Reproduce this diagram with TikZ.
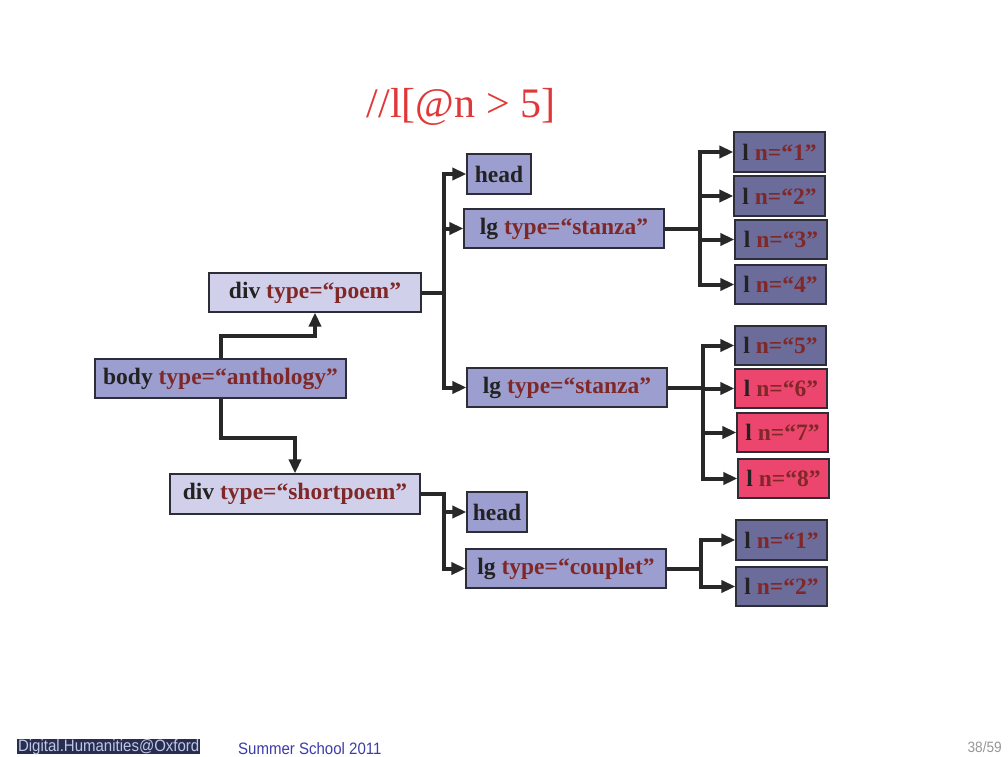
\documentclass[tikz,border=0pt]{standalone}
\usepackage{fontspec}
\setmainfont{Liberation Serif}
\newfontfamily\footfont[FakeStretch=0.91]{Liberation Sans}
\usetikzlibrary{arrows.meta}
\definecolor{lightc}{RGB}{155,158,206}
\definecolor{divc}{RGB}{208,208,234}
\definecolor{darkc}{RGB}{108,108,155}
\definecolor{redc}{RGB}{236,70,110}
\definecolor{txtc}{RGB}{34,34,34}
\definecolor{attrc}{RGB}{128,40,40}
\definecolor{titlec}{RGB}{224,56,56}
\definecolor{linec}{RGB}{40,40,40}
\definecolor{bordc}{RGB}{45,45,55}
\definecolor{footbox}{RGB}{40,46,80}
\definecolor{foottxt}{RGB}{190,200,230}
\definecolor{schoolc}{RGB}{60,60,170}
\definecolor{pagec}{RGB}{150,150,150}
\newcommand\myattr[1]{\textcolor{attrc}{#1}}
\begin{document}
\begin{tikzpicture}[x=1pt,y=-1pt,
  sz/.style 2 args={minimum width=#1pt,minimum height=#2pt},
  tbox/.style={rectangle,draw=bordc,line width=1.2pt,inner sep=0pt,
    font=\bfseries\fontsize{23.5}{24}\selectfont,text=txtc},
  lightbox/.style={tbox,fill=lightc},
  divbox/.style={tbox,fill=divc},
  darkbox/.style={tbox,fill=darkc},
  hitbox/.style={tbox,fill=redc},
  arr/.style={draw=linec,line width=4pt,-{Triangle[length=14pt,width=12pt]}}]
\useasboundingbox (0,0) rectangle (1008,756);

% title
\node[text=titlec,font=\fontsize{42}{42}\selectfont] (title) at (461,107) {//l[@n > 5]};

% main nodes
\node[divbox,sz={212}{39}] (divpoem) at (315,292.5) {div \myattr{type=“poem”}};
\node[lightbox,sz={251}{39}] (body) at (220.5,378.5) {body \myattr{type=“anthology”}};
\node[divbox,sz={250}{40}] (short) at (295,494) {div \myattr{type=“shortpoem”}};

\node[lightbox,sz={64}{40}] (head1) at (499,174) {head};
\node[lightbox,sz={200}{39}] (lgs1) at (564,228.5) {lg \myattr{type=“stanza”}};
\node[lightbox,sz={200}{39}] (lgs2) at (567,387.5) {lg \myattr{type=“stanza”}};
\node[lightbox,sz={60}{40}] (head2) at (497,512) {head};
\node[lightbox,sz={200}{39}] (coup) at (566,568.5) {lg \myattr{type=“couplet”}};

\node[darkbox,sz={91}{40}] (l1) at (779.5,152) {l \myattr{n=“1”}};
\node[darkbox,sz={91}{40}] (l2) at (779.5,196) {l \myattr{n=“2”}};
\node[darkbox,sz={92}{39}] (l3) at (781,239.5) {l \myattr{n=“3”}};
\node[darkbox,sz={91}{39}] (l4) at (780.5,284.5) {l \myattr{n=“4”}};
\node[darkbox,sz={91}{39}] (l5) at (780.5,345.5) {l \myattr{n=“5”}};
\node[hitbox,sz={92}{39}] (l6) at (781,388.5) {l \myattr{n=“6”}};
\node[hitbox,sz={91}{39}] (l7) at (782.5,432.5) {l \myattr{n=“7”}};
\node[hitbox,sz={91}{39}] (l8) at (783.5,478.5) {l \myattr{n=“8”}};
\node[darkbox,sz={91}{40}] (lb1) at (781.5,540) {l \myattr{n=“1”}};
\node[darkbox,sz={91}{39}] (lb2) at (781.5,586.5) {l \myattr{n=“2”}};

% connectors
\draw[arr] (body.north) -- ++(0,-22) -| (divpoem.south);
\draw[arr] (body.south) -- ++(0,39) -| (short.north);

\draw[arr] (divpoem.east) -- ++(22,0) |- (head1.west);
\draw[arr] (divpoem.east) -- ++(22,0) |- (lgs1.west);
\draw[arr] (divpoem.east) -- ++(22,0) |- (lgs2.west);

\draw[arr] (lgs1.east) -- ++(35,0) |- (l1.west);
\draw[arr] (lgs1.east) -- ++(35,0) |- (l2.west);
\draw[arr] (lgs1.east) -- ++(35,0) |- (l3.west);
\draw[arr] (lgs1.east) -- ++(35,0) |- (l4.west);

\draw[arr] (lgs2.east) -- ++(35,0) |- (l5.west);
\draw[arr] (lgs2.east) -- ++(35,0) |- (l6.west);
\draw[arr] (lgs2.east) -- ++(35,0) |- (l7.west);
\draw[arr] (lgs2.east) -- ++(35,0) |- (l8.west);

\draw[arr] (short.east) -- ++(23,0) |- (head2.west);
\draw[arr] (short.east) -- ++(23,0) |- (coup.west);

\draw[arr] (coup.east) -- ++(34,0) |- (lb1.west);
\draw[arr] (coup.east) -- ++(34,0) |- (lb2.west);

% footer
\node[fill=footbox,text=foottxt,inner sep=0pt,anchor=west,minimum width=183pt,
  text height=12pt,text depth=3pt,font=\footfont\fontsize{16.5}{16}\selectfont] (dho) at (17,746.5) {Digital.Humanities@Oxford};
\node[text=schoolc,inner sep=0pt,anchor=base west,
  font=\footfont\fontsize{16.5}{17}\selectfont] (school) at (238,754) {Summer School 2011};
\node[text=pagec,inner sep=0pt,anchor=base east,
  font=\footfont\fontsize{15}{15}\selectfont] (page) at (1002,752) {38/59};
\end{tikzpicture}
\end{document}
